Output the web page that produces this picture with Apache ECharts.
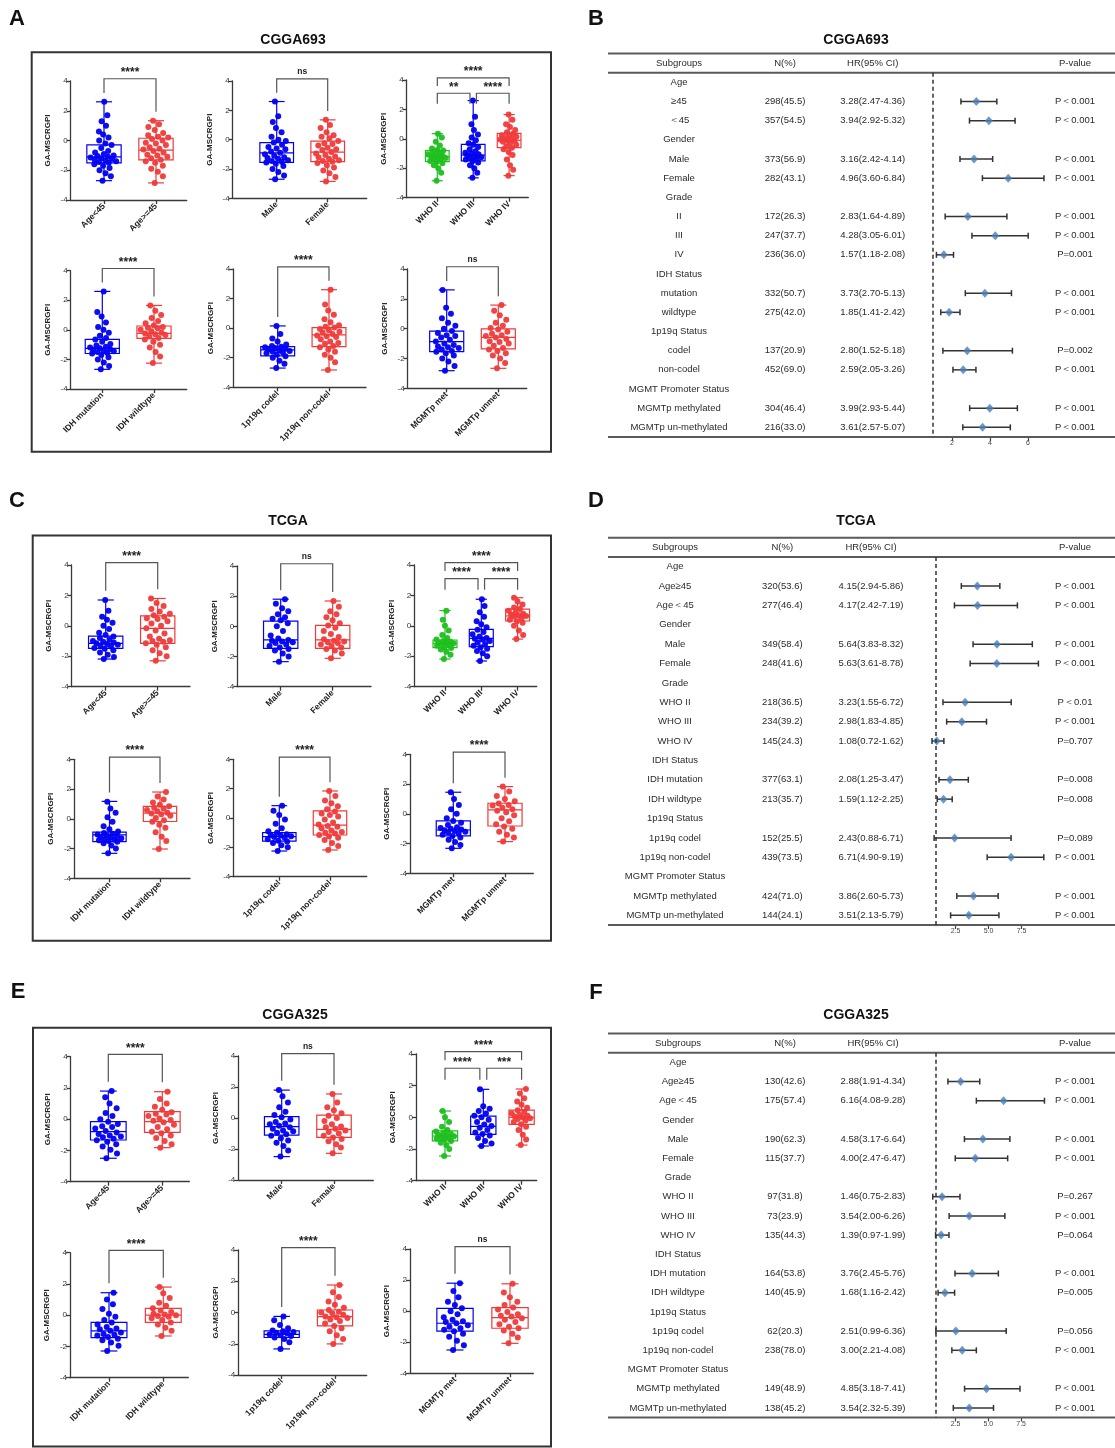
<!DOCTYPE html>
<html><head><meta charset="utf-8">
<script src="https://cdn.jsdelivr.net/npm/echarts@6/dist/echarts.min.js"></script>
<style>html,body{margin:0;padding:0;background:#fff}#c{width:1115px;height:1448px}</style>
</head><body><div id="c"></div>
<script>
// ================= DATA =================
// category labels
const catsAge = ['Age<45', 'Age>=45'];
const catsSex = ['Male', 'Female'];
const catsGrade = ['WHO II', 'WHO III', 'WHO IV'];
const catsIdh = ['IDH mutation', 'IDH wildtype'];
const catsCodel = ['1p19q codel', '1p19q non-codel'];
const catsMgmt = ['MGMTp met', 'MGMTp unmet'];

// ---- CGGA693 box stats [min,q1,median,q3,max] and read-off points ----
const c693AgeBox = [[-2.7,-1.5,-1.1,-0.3,2.6],[-2.85,-1.3,-0.65,0.15,1.33]];
const c693AgePts = [[2.6,1.7,1.3,1.0,0.6,0.4,0.2,0.0,-0.2,-0.3,-0.5,-0.7,-0.9,-1.0,-1.1,-1.2,-1.25,-1.3,-1.35,-1.4,-1.45,-1.5,-1.6,-1.7,-1.85,-2.0,-2.2,-2.4,-2.7,-0.8,-1.15,-1.05],
                    [1.33,1.1,0.9,0.7,0.5,0.35,0.2,0.1,0.0,-0.15,-0.3,-0.45,-0.6,-0.7,-0.8,-0.95,-1.1,-1.2,-1.3,-1.4,-1.5,-1.7,-1.9,-2.1,-2.4,-2.85,-0.55,-0.2,0.25,-1.0]];
const c693SexBox = [[-2.7,-1.55,-0.9,-0.2,2.6],[-2.85,-1.5,-0.85,-0.1,1.35]];
const c693SexPts = [[2.6,1.6,1.2,0.8,0.5,0.2,0.0,-0.2,-0.35,-0.5,-0.65,-0.8,-0.9,-1.0,-1.1,-1.2,-1.3,-1.4,-1.5,-1.55,-1.65,-1.8,-2.0,-2.2,-2.45,-2.7,-0.1,-0.6,-1.25,-1.45],
                    [1.35,1.0,0.8,0.5,0.3,0.1,-0.1,-0.25,-0.4,-0.55,-0.7,-0.85,-0.95,-1.05,-1.2,-1.3,-1.4,-1.5,-1.6,-1.75,-1.9,-2.1,-2.3,-2.55,-2.85,-0.3,-0.65,-1.15,-1.45,0.2]];
const c693GradeBox = [[-2.85,-1.55,-1.2,-0.8,0.35],[-2.65,-1.5,-1.1,-0.37,2.6],[-2.5,-0.6,-0.1,0.37,1.65]];
const c693GradePts = [[0.35,0.1,-0.2,-0.45,-0.65,-0.8,-0.9,-1.0,-1.1,-1.15,-1.2,-1.25,-1.3,-1.4,-1.5,-1.55,-1.65,-1.8,-2.0,-2.3,-2.85,-1.05,-1.35,-0.75],
                      [2.6,1.5,1.0,0.6,0.3,0.1,-0.1,-0.3,-0.4,-0.55,-0.7,-0.85,-1.0,-1.05,-1.1,-1.2,-1.25,-1.3,-1.4,-1.5,-1.6,-1.8,-2.0,-2.3,-2.65,-0.95,-1.35],
                      [1.65,1.3,1.0,0.8,0.6,0.45,0.35,0.25,0.15,0.05,-0.05,-0.1,-0.2,-0.3,-0.4,-0.5,-0.6,-0.7,-0.9,-1.1,-1.4,-1.8,-2.1,-2.5,0.0,-0.15,0.2]];
const c693IdhBox = [[-2.67,-1.6,-1.25,-0.65,2.6],[-2.25,-0.57,-0.24,0.26,1.65]];
const c693IdhPts = [[2.6,1.2,0.9,0.5,0.2,0.0,-0.2,-0.4,-0.55,-0.65,-0.8,-0.95,-1.05,-1.15,-1.25,-1.3,-1.35,-1.4,-1.5,-1.55,-1.6,-1.7,-1.85,-2.0,-2.2,-2.45,-2.67,-1.2,-1.45],
                    [1.65,1.3,1.0,0.8,0.6,0.45,0.3,0.2,0.1,0.0,-0.1,-0.2,-0.25,-0.35,-0.45,-0.55,-0.65,-0.8,-1.0,-1.2,-1.5,-1.8,-2.25,-0.3,0.15]];
const c693CodelBox = [[-2.7,-1.88,-1.47,-1.25,0.15],[-2.83,-1.25,-0.46,0.03,2.6]];
const c693CodelPts = [[0.15,-0.4,-0.7,-0.9,-1.1,-1.2,-1.25,-1.3,-1.4,-1.45,-1.5,-1.55,-1.6,-1.7,-1.8,-1.9,-2.0,-2.2,-2.4,-2.7,-1.35,-1.65],
                      [2.6,1.6,1.2,0.9,0.6,0.4,0.2,0.05,-0.05,-0.15,-0.3,-0.4,-0.5,-0.6,-0.75,-0.9,-1.05,-1.2,-1.3,-1.45,-1.6,-1.8,-2.0,-2.3,-2.83,-0.25,-0.55,0.1,-1.0]];
const c693MgmtBox = [[-2.82,-1.54,-0.87,-0.16,2.6],[-2.66,-1.36,-0.58,-0.02,1.58]];
const c693MgmtPts = [[2.6,1.4,1.0,0.7,0.4,0.2,0.0,-0.15,-0.3,-0.45,-0.6,-0.75,-0.87,-1.0,-1.1,-1.2,-1.3,-1.4,-1.5,-1.55,-1.65,-1.8,-2.0,-2.2,-2.5,-2.82,-0.5,-1.25],
                     [1.58,1.2,0.9,0.6,0.4,0.2,0.05,-0.05,-0.2,-0.35,-0.5,-0.6,-0.7,-0.85,-1.0,-1.15,-1.3,-1.4,-1.5,-1.65,-1.8,-2.0,-2.3,-2.66,-0.45,-0.9]];
const c693Sig2 = ['****', 'ns', '****', '****', 'ns'];          // age, sex, idh, codel, mgmt
const c693GradeSig = [[0, 2, '****'], [0, 1, '**'], [1, 2, '****']];

// ---- TCGA ----
const tcgaAgeBox = [[-2.18,-1.48,-1.15,-0.67,1.7],[-2.3,-1.15,-0.16,0.65,1.8]];
const tcgaAgePts = [[1.7,1.0,0.6,0.4,0.2,0.0,-0.2,-0.45,-0.6,-0.7,-0.8,-0.9,-1.0,-1.05,-1.1,-1.15,-1.2,-1.3,-1.35,-1.45,-1.5,-1.6,-1.75,-1.9,-2.05,-2.18,-1.25],
                    [1.8,1.5,1.3,1.1,0.95,0.8,0.7,0.6,0.45,0.3,0.15,0.0,-0.15,-0.3,-0.5,-0.7,-0.85,-0.95,-1.05,-1.15,-1.25,-1.4,-1.6,-1.8,-2.0,-2.3,-1.0,0.5]];
const tcgaSexBox = [[-2.34,-1.46,-0.9,0.35,1.8],[-2.12,-1.46,-0.9,0.07,1.68]];
const tcgaSexPts = [[1.8,1.5,1.2,1.0,0.8,0.6,0.4,0.2,0.0,-0.3,-0.6,-0.8,-0.9,-1.0,-1.05,-1.1,-1.2,-1.3,-1.4,-1.5,-1.6,-1.8,-2.0,-2.34,-0.95,0.5],
                    [1.68,1.3,1.0,0.8,0.6,0.4,0.2,0.05,-0.1,-0.3,-0.5,-0.7,-0.85,-0.95,-1.0,-1.1,-1.2,-1.3,-1.4,-1.5,-1.6,-1.8,-2.12,-1.05]];
const tcgaGradeBox = [[-2.18,-1.43,-1.15,-0.93,1.0],[-2.31,-1.37,-0.82,-0.23,1.75],[-0.87,0.32,0.65,1.1,1.85]];
const tcgaGradePts = [[1.0,0.4,0.0,-0.3,-0.6,-0.8,-0.9,-1.0,-1.05,-1.1,-1.15,-1.2,-1.25,-1.3,-1.4,-1.45,-1.55,-1.7,-1.9,-2.18,-1.12],
                      [1.75,1.3,0.9,0.6,0.3,0.1,-0.1,-0.25,-0.4,-0.55,-0.7,-0.8,-0.9,-1.0,-1.1,-1.2,-1.3,-1.4,-1.5,-1.65,-1.8,-2.0,-2.31,-0.85],
                      [1.85,1.6,1.4,1.2,1.1,1.0,0.9,0.8,0.7,0.65,0.6,0.5,0.4,0.3,0.2,0.0,-0.3,-0.6,-0.87,0.75]];
const tcgaIdhBox = [[-2.32,-1.53,-1.08,-0.9,1.17],[-2.03,-0.18,0.38,0.83,1.8]];
const tcgaIdhPts = [[1.15,0.7,0.4,0.1,-0.2,-0.5,-0.7,-0.85,-0.95,-1.0,-1.1,-1.15,-1.2,-1.25,-1.3,-1.35,-1.4,-1.5,-1.55,-1.65,-1.8,-2.0,-2.32,-1.05,-1.45],
                    [1.8,1.5,1.3,1.1,0.95,0.85,0.75,0.6,0.5,0.4,0.3,0.2,0.05,-0.1,-0.2,-0.4,-0.6,-0.9,-1.2,-1.5,-2.03,0.35,0.7]];
const tcgaCodelBox = [[-2.25,-1.57,-1.27,-1.0,0.84],[-2.18,-1.16,-0.48,0.48,1.84]];
const tcgaCodelPts = [[0.84,0.5,0.2,-0.1,-0.4,-0.7,-0.9,-1.0,-1.1,-1.2,-1.25,-1.3,-1.35,-1.45,-1.55,-1.6,-1.7,-1.85,-2.0,-2.25,-1.15],
                      [1.84,1.5,1.2,1.0,0.8,0.6,0.45,0.3,0.1,-0.1,-0.3,-0.45,-0.55,-0.7,-0.85,-0.95,-1.05,-1.15,-1.25,-1.35,-1.5,-1.7,-1.9,-2.18,-0.6,0.2,-1.0]];
const tcgaMgmtBox = [[-2.32,-1.49,-1.09,-0.48,1.45],[-1.87,-0.82,0.26,0.71,1.83]];
const tcgaMgmtPts = [[1.45,1.0,0.6,0.3,0.0,-0.3,-0.48,-0.6,-0.75,-0.9,-1.0,-1.05,-1.1,-1.15,-1.2,-1.3,-1.4,-1.5,-1.6,-1.75,-1.9,-2.1,-2.32,-1.25,-0.95],
                     [1.83,1.5,1.2,1.0,0.85,0.7,0.55,0.4,0.3,0.2,0.1,-0.1,-0.3,-0.5,-0.7,-0.85,-1.0,-1.2,-1.4,-1.6,-1.87,0.6]];
const tcgaSig2 = ['****', 'ns', '****', '****', '****'];
const tcgaGradeSig = [[0, 2, '****'], [0, 1, '****'], [1, 2, '****']];

// ---- CGGA325 ----
const c325AgeBox = [[-2.5,-1.33,-0.8,-0.16,1.8],[-1.82,-0.84,-0.16,0.48,1.76]];
const c325AgePts = [[1.8,1.4,1.0,0.7,0.4,0.2,0.0,-0.16,-0.3,-0.45,-0.6,-0.75,-0.85,-0.95,-1.05,-1.15,-1.25,-1.35,-1.45,-1.6,-1.75,-1.95,-2.2,-2.5,-0.5,-1.1],
                    [1.76,1.3,1.0,0.8,0.6,0.45,0.35,0.2,0.05,-0.1,-0.2,-0.35,-0.5,-0.65,-0.8,-0.9,-1.05,-1.2,-1.4,-1.6,-1.82,0.3,-0.05]];
const c325SexBox = [[-2.49,-1.1,-0.56,0.09,1.8],[-2.28,-1.25,-0.73,0.19,1.55]];
const c325SexPts = [[1.8,1.4,1.0,0.7,0.4,0.2,0.05,-0.1,-0.25,-0.4,-0.5,-0.6,-0.7,-0.8,-0.95,-1.05,-1.15,-1.3,-1.45,-1.6,-1.8,-2.1,-2.49,-0.35,-0.85],
                    [1.55,1.0,0.7,0.5,0.3,0.15,0.0,-0.2,-0.4,-0.55,-0.7,-0.8,-0.9,-1.0,-1.15,-1.25,-1.35,-1.5,-1.7,-1.9,-2.28,-0.6]];
const c325GradeBox = [[-2.44,-1.49,-1.18,-0.86,0.4],[-1.81,-1.07,-0.57,0.08,1.77],[-1.75,-0.44,0.0,0.46,1.79]];
const c325GradePts = [[0.4,0.0,-0.3,-0.6,-0.8,-0.9,-1.0,-1.1,-1.15,-1.2,-1.25,-1.3,-1.4,-1.5,-1.6,-1.75,-2.0,-2.44,-1.05,-1.35],
                      [1.77,0.7,0.55,0.4,0.25,0.1,0.0,-0.15,-0.3,-0.45,-0.55,-0.65,-0.8,-0.95,-1.05,-1.15,-1.3,-1.5,-1.65,-1.81],
                      [1.79,1.5,1.2,1.0,0.8,0.6,0.45,0.35,0.25,0.15,0.05,0.0,-0.1,-0.2,-0.3,-0.44,-0.6,-0.8,-1.1,-1.4,-1.75,0.1,-0.05]];
const c325IdhBox = [[-2.29,-1.44,-1.0,-0.46,1.44],[-1.33,-0.46,0.0,0.44,1.8]];
const c325IdhPts = [[1.44,1.0,0.7,0.4,0.1,-0.1,-0.3,-0.46,-0.6,-0.75,-0.9,-1.0,-1.1,-1.2,-1.3,-1.4,-1.5,-1.6,-1.75,-1.95,-2.29,-0.85,-1.25],
                    [1.8,1.4,1.1,0.8,0.6,0.44,0.3,0.2,0.1,0.0,-0.1,-0.2,-0.3,-0.46,-0.6,-0.8,-1.0,-1.33,0.05,-0.05]];
const c325CodelBox = [[-2.33,-1.6,-1.4,-1.18,-0.25],[-2.01,-0.86,-0.27,0.16,1.76]];
const c325CodelPts = [[-0.25,-0.5,-0.8,-1.0,-1.15,-1.2,-1.3,-1.35,-1.4,-1.45,-1.5,-1.6,-1.7,-1.9,-2.33,-1.25],
                      [1.76,1.3,1.0,0.7,0.5,0.3,0.16,0.05,-0.05,-0.15,-0.25,-0.35,-0.45,-0.55,-0.7,-0.86,-1.0,-1.2,-1.45,-1.7,-2.01,-0.3,0.0]];
const c325MgmtBox = [[-2.5,-1.28,-0.78,0.18,1.8],[-2.07,-1.1,-0.42,0.23,1.76]];
const c325MgmtPts = [[1.8,1.3,0.9,0.6,0.4,0.18,0.0,-0.2,-0.4,-0.55,-0.7,-0.78,-0.9,-1.0,-1.1,-1.2,-1.3,-1.45,-1.65,-1.9,-2.2,-2.5,-0.65],
                     [1.76,1.2,0.9,0.6,0.4,0.23,0.1,-0.05,-0.2,-0.35,-0.45,-0.55,-0.7,-0.85,-1.0,-1.1,-1.25,-1.45,-1.7,-2.07,-0.3]];
const c325Sig2 = ['****', 'ns', '****', '****', 'ns'];
const c325GradeSig = [[0, 2, '****'], [0, 1, '****'], [1, 2, '***']];

// ---- Forest tables ----
const c693Rows = ['Age','≥45','＜45','Gender','Male','Female','Grade','II','III','IV','IDH Status','mutation','wildtype','1p19q Status','codel','non-codel','MGMT Promoter Status','MGMTp methylated','MGMTp un-methylated'];
const c693N  = ['','298(45.5)','357(54.5)','','373(56.9)','282(43.1)','','172(26.3)','247(37.7)','236(36.0)','','332(50.7)','275(42.0)','','137(20.9)','452(69.0)','','304(46.4)','216(33.0)'];
const c693HR = [null,3.28,3.94,null,3.16,4.96,null,2.83,4.28,1.57,null,3.73,1.85,null,2.80,2.59,null,3.99,3.61];
const c693Lo = [null,2.47,2.92,null,2.42,3.60,null,1.64,3.05,1.18,null,2.70,1.41,null,1.52,2.05,null,2.93,2.57];
const c693Hi = [null,4.36,5.32,null,4.14,6.84,null,4.89,6.01,2.08,null,5.13,2.42,null,5.18,3.26,null,5.44,5.07];
const c693P  = ['','P＜0.001','P＜0.001','','P＜0.001','P＜0.001','','P＜0.001','P＜0.001','P=0.001','','P＜0.001','P＜0.001','','P=0.002','P＜0.001','','P＜0.001','P＜0.001'];

const tcgaRows = ['Age','Age≥45','Age＜45','Gender','Male','Female','Grade','WHO II','WHO III','WHO IV','IDH Status','IDH mutation','IDH wildtype','1p19q Status','1p19q codel','1p19q non-codel','MGMT Promoter Status','MGMTp methylated','MGMTp un-methylated'];
const tcgaN  = ['','320(53.6)','277(46.4)','','349(58.4)','248(41.6)','','218(36.5)','234(39.2)','145(24.3)','','377(63.1)','213(35.7)','','152(25.5)','439(73.5)','','424(71.0)','144(24.1)'];
const tcgaHR = [null,4.15,4.17,null,5.64,5.63,null,3.23,2.98,1.08,null,2.08,1.59,null,2.43,6.71,null,3.86,3.51];
const tcgaLo = [null,2.94,2.42,null,3.83,3.61,null,1.55,1.83,0.72,null,1.25,1.12,null,0.88,4.90,null,2.60,2.13];
const tcgaHi = [null,5.86,7.19,null,8.32,8.78,null,6.72,4.85,1.62,null,3.47,2.25,null,6.71,9.19,null,5.73,5.79];
const tcgaP  = ['','P＜0.001','P＜0.001','','P＜0.001','P＜0.001','','P＜0.01','P＜0.001','P=0.707','','P=0.008','P=0.008','','P=0.089','P＜0.001','','P＜0.001','P＜0.001'];

const c325Rows = ['Age','Age≥45','Age＜45','Gender','Male','Female','Grade','WHO II','WHO III','WHO IV','IDH Status','IDH mutation','IDH wildtype','1p19q Status','1p19q codel','1p19q non-codel','MGMT Promoter Status','MGMTp methylated','MGMTp un-methylated'];
const c325N  = ['','130(42.6)','175(57.4)','','190(62.3)','115(37.7)','','97(31.8)','73(23.9)','135(44.3)','','164(53.8)','140(45.9)','','62(20.3)','238(78.0)','','149(48.9)','138(45.2)'];
const c325HR = [null,2.88,6.16,null,4.58,4.00,null,1.46,3.54,1.39,null,3.76,1.68,null,2.51,3.00,null,4.85,3.54];
const c325Lo = [null,1.91,4.08,null,3.17,2.47,null,0.75,2.00,0.97,null,2.45,1.16,null,0.99,2.21,null,3.18,2.32];
const c325Hi = [null,4.34,9.28,null,6.64,6.47,null,2.83,6.26,1.99,null,5.76,2.42,null,6.36,4.08,null,7.41,5.39];
const c325P  = ['','P＜0.001','P＜0.001','','P＜0.001','P＜0.001','','P=0.267','P＜0.001','P=0.064','','P＜0.001','P=0.005','','P=0.056','P＜0.001','','P＜0.001','P＜0.001'];

const forestHeader = ['Subgroups', 'N(%)', 'HR(95% CI)', 'P-value'];
const ticksB = [2, 4, 6];
const ticksDF = [2.5, 5, 7.5];

// ================= LAYOUT / STYLE =================
const FONT = '"Liberation Sans", Arial, Helvetica, sans-serif';
const BLUE = '#0000f2', RED = '#f03a3a', GREEN = '#1dbf1d';

const LAY = {
  A: [
    {y4:81, ym4:200, left:70.7, right:186.7, c0:104, sp:52},
    {y4:81, ym4:198.3, left:232.7, right:366.7, c0:276.7, sp:51},
    {y4:80, ym4:197.7, left:406.7, right:528.3, c0:437.3, sp:35.9},
    {y4:270.7, ym4:389, left:70.7, right:186.7, c0:102.3, sp:51.7},
    {y4:269, ym4:387.3, left:233.3, right:366, c0:277.7, sp:51.3},
    {y4:269, ym4:388.3, left:407.7, right:526.7, c0:446.7, sp:51.6}
  ],
  C: [
    {y4:565, ym4:686.7, left:71.7, right:190, c0:105.7, sp:52},
    {y4:566, ym4:686.7, left:237.3, right:371, c0:280.7, sp:52},
    {y4:565, ym4:686.7, left:414.3, right:536.7, c0:445, sp:36.3},
    {y4:759.3, ym4:878.3, left:74, right:190, c0:109.5, sp:50.5},
    {y4:759.3, ym4:876.7, left:233.3, right:366.7, c0:279.3, sp:50.7},
    {y4:754.3, ym4:873.3, left:410, right:533.3, c0:453.3, sp:51.7}
  ],
  E: [
    {y4:1056.7, ym4:1181.7, left:70.7, right:189.3, c0:108.3, sp:54},
    {y4:1056, ym4:1180, left:238.3, right:373.3, c0:281.7, sp:52.3},
    {y4:1054, ym4:1180.7, left:416, right:536.7, c0:445, sp:38.3},
    {y4:1252.7, ym4:1377.7, left:70, right:188.3, c0:109, sp:54.3},
    {y4:1250, ym4:1375, left:238.3, right:366.7, c0:281.7, sp:53.3},
    {y4:1249, ym4:1373.3, left:410, right:533.3, c0:455, sp:55}
  ]
};
const FLAY = {
  B: {row0:82.3, step:19.17, x0:914, ppu:19, xmax:8, cols:[71,177,264.7,467], ticks:ticksB, fmt:v=>String(v)},
  D: {row0:566.7, step:19.37, x0:922.5, ppu:13.2, xmax:10, cols:[67,174.3,263,467], ticks:ticksDF, fmt:v=>v.toFixed(1)},
  F: {row0:1062.3, step:19.2, x0:922.9, ppu:13.1, xmax:10, cols:[70,177,265,467], ticks:ticksDF, fmt:v=>v.toFixed(1)}
};

const grid = [], xAxis = [], yAxis = [], series = [], graphic = [];

function addBoxPlot(L, cats, box, pts, sig) {
  const gi = grid.length;
  const n = cats.length;
  const cols = n === 3 ? [GREEN, BLUE, RED] : [BLUE, RED];
  const idx = cats.map((_, i) => i);
  grid.push({left: L.left, top: L.y4, width: L.right - L.left, height: L.ym4 - L.y4});
  xAxis.push({gridIndex: gi, type: 'value', min: -(L.c0 - L.left) / L.sp, max: (L.right - L.c0) / L.sp,
    axisLine: {show: true, onZero: false, lineStyle: {color: '#3a3a3a', width: 1.3}},
    axisTick: {show: true, customValues: idx, length: 4, lineStyle: {color: '#3a3a3a', width: 1.3}},
    axisLabel: {show: true, customValues: idx, formatter: v => cats[Math.round(v)], rotate: 45, fontSize: 8.5,
      fontWeight: 'bold', color: '#222', fontFamily: FONT, margin: 5},
    splitLine: {show: false}});
  yAxis.push({gridIndex: gi, type: 'value', min: -4, max: 4, interval: 2,
    axisLine: {show: true, onZero: false, lineStyle: {color: '#3a3a3a', width: 1.3}},
    axisTick: {show: true, length: 4, lineStyle: {color: '#3a3a3a', width: 1.3}},
    axisLabel: {fontSize: 8, color: '#333', fontFamily: FONT, margin: 3},
    splitLine: {show: false},
    name: 'GA-MSCRGPI', nameLocation: 'middle', nameGap: 19,
    nameTextStyle: {fontSize: 8, fontWeight: 'bold', color: '#222', fontFamily: FONT}});
  // points (x spread = layout only, derived from local density of the read values)
  pts.forEach((arr, i) => {
    const v = arr.slice().sort((a, b) => a - b);
    const dens = v.map(y => v.filter(z => Math.abs(z - y) <= 0.35).length);
    const dmax = Math.max(...dens);
    const data = v.map((y, k) => {
      const u = ((k * 0.618034 + 0.37) % 1) * 2 - 1;
      const w = 0.27 * Math.sqrt(dens[k] / dmax);
      return [i + u * w, y];
    });
    series.push({type: 'scatter', xAxisIndex: gi, yAxisIndex: gi, data, symbolSize: 6, silent: true, z: 2,
      itemStyle: {color: cols[i], opacity: 0.95}});
  });
  // boxes
  series.push({type: 'custom', xAxisIndex: gi, yAxisIndex: gi, z: 3, silent: true, clip: false,
    data: box.map((b, i) => [i, ...b]),
    renderItem: (p, api) => {
      const i = api.value(0), col = cols[i];
      const X = api.coord([i, 0])[0];
      const y = k => api.coord([i, api.value(k)])[1];
      const hw = api.size([0.33, 0])[0], cw = api.size([0.155, 0])[0];
      const st = {stroke: col, lineWidth: 1.2, fill: 'none'};
      const yMin = y(1), yQ1 = y(2), yMd = y(3), yQ3 = y(4), yMax = y(5);
      return {type: 'group', children: [
        {type: 'rect', shape: {x: X - hw, y: yQ3, width: 2 * hw, height: yQ1 - yQ3}, style: st},
        {type: 'line', shape: {x1: X - hw, y1: yMd, x2: X + hw, y2: yMd}, style: st},
        {type: 'line', shape: {x1: X, y1: yQ3, x2: X, y2: yMax}, style: st},
        {type: 'line', shape: {x1: X, y1: yQ1, x2: X, y2: yMin}, style: st},
        {type: 'line', shape: {x1: X - cw, y1: yMax, x2: X + cw, y2: yMax}, style: st},
        {type: 'line', shape: {x1: X - cw, y1: yMin, x2: X + cw, y2: yMin}, style: st}
      ]};
    }});
  // significance brackets
  const sdata = sig.map(([i, j], k) => {
    let top, li, lj, xi = i, xj = j;
    if (n === 2) { top = 4.15; li = Math.min(box[i][4] + 0.6, top - 0.3); lj = Math.min(box[j][4] + 0.6, top - 0.3); }
    else if (j - i === 2) { top = 4.15; li = lj = top - 0.55; }
    else { top = 3.1; li = lj = top - 0.72; if (i === 1) xi = i + 0.09; if (j === 1) xj = j - 0.09; }
    return [xi, xj, top, li, lj, k];
  });
  series.push({type: 'custom', xAxisIndex: gi, yAxisIndex: gi, z: 3, silent: true, clip: false, data: sdata,
    renderItem: (p, api) => {
      const a = api.coord([api.value(0), api.value(3)]), b = api.coord([api.value(0), api.value(2)]);
      const c = api.coord([api.value(1), api.value(2)]), d = api.coord([api.value(1), api.value(4)]);
      const lab = sig[api.value(5)][2];
      const ns = lab === 'ns';
      return {type: 'group', children: [
        {type: 'polyline', shape: {points: [a, b, c, d]}, style: {stroke: '#555', lineWidth: 1.2, fill: 'none'}},
        {type: 'text', x: (b[0] + c[0]) / 2, y: b[1] - (ns ? 3 : 0),
          style: {text: lab, align: 'center', verticalAlign: 'bottom', textAlign: 'center', textVerticalAlign: 'bottom',
            fontSize: ns ? 8.5 : 12, fontWeight: 'bold', fontFamily: FONT, fill: '#222'}}
      ]};
    }});
}

function addBoxPanel(Ls, age, sex, grade, idh, codel, mgmt, sig2, gradeSig) {
  addBoxPlot(Ls[0], catsAge, age[0], age[1], [[0, 1, sig2[0]]]);
  addBoxPlot(Ls[1], catsSex, sex[0], sex[1], [[0, 1, sig2[1]]]);
  addBoxPlot(Ls[2], catsGrade, grade[0], grade[1], gradeSig);
  addBoxPlot(Ls[3], catsIdh, idh[0], idh[1], [[0, 1, sig2[2]]]);
  addBoxPlot(Ls[4], catsCodel, codel[0], codel[1], [[0, 1, sig2[3]]]);
  addBoxPlot(Ls[5], catsMgmt, mgmt[0], mgmt[1], [[0, 1, sig2[4]]]);
}

function addForest(L, rows, nArr, hr, lo, hi, pArr) {
  const top = L.row0 - L.step / 2, height = 19 * L.step;
  const gT = grid.length;
  grid.push({left: 608, top, width: 507, height});
  xAxis.push({gridIndex: gT, type: 'value', min: 0, max: 507, show: false});
  yAxis.push({gridIndex: gT, type: 'value', min: -0.5, max: 18.5, inverse: true, show: false});
  series.push({type: 'custom', xAxisIndex: gT, yAxisIndex: gT, clip: false, silent: true, z: 2,
    data: [-1, ...rows.map((_, i) => i)].map(r => [0, r]),
    renderItem: (p, api) => {
      const r = api.value(1);
      const y = api.coord([0, r])[1];
      const xc = k => api.coord([L.cols[k], r])[0];
      const txt = (k, s) => ({type: 'text', x: xc(k), y,
        style: {text: s, align: 'center', verticalAlign: 'middle', textAlign: 'center', textVerticalAlign: 'middle',
          fontSize: 9.5, fontFamily: FONT, fill: '#2a2a2a'}});
      if (r === -1) {
        const xl = api.coord([0, 0])[0], xr = api.coord([507, 0])[0];
        const ly = v => api.coord([0, v])[1];
        const rule = v => ({type: 'line', shape: {x1: xl, y1: ly(v), x2: xr, y2: ly(v)}, style: {stroke: '#5a5a5a', lineWidth: 2}});
        return {type: 'group', children: [
          txt(0, forestHeader[0]), txt(1, forestHeader[1]), txt(2, forestHeader[2]), txt(3, forestHeader[3]),
          rule(-1.5), rule(-0.5), rule(18.5)
        ]};
      }
      const h = hr[r];
      const hrText = h == null ? '' : `${h.toFixed(2)}(${lo[r].toFixed(2)}-${hi[r].toFixed(2)})`;
      return {type: 'group', children: [txt(0, rows[r]), txt(1, nArr[r]), txt(2, hrText), txt(3, pArr[r])]};
    }});

  const gF = grid.length;
  grid.push({left: L.x0, top, width: L.ppu * L.xmax, height});
  xAxis.push({gridIndex: gF, type: 'value', min: 0, max: L.xmax, position: 'bottom',
    axisLine: {show: false, onZero: false},
    axisTick: {show: true, customValues: L.ticks, length: 4, lineStyle: {color: '#444', width: 1.2}},
    axisLabel: {show: true, customValues: L.ticks, formatter: v => L.fmt(v), fontSize: 7, color: '#444', margin: 3, fontFamily: FONT},
    splitLine: {show: false}});
  yAxis.push({gridIndex: gF, type: 'value', min: -0.5, max: 18.5, inverse: true, show: false});
  const ci = [], est = [];
  hr.forEach((h, r) => { if (h != null) { ci.push([lo[r], hi[r], r]); est.push([h, r]); } });
  series.push({type: 'custom', xAxisIndex: gF, yAxisIndex: gF, clip: false, silent: true, z: 3, data: ci,
    encode: {x: [0, 1], y: 2},
    renderItem: (p, api) => {
      const a = api.coord([api.value(0), api.value(2)]), b = api.coord([api.value(1), api.value(2)]);
      const st = {stroke: '#333', lineWidth: 1.5};
      return {type: 'group', children: [
        {type: 'line', shape: {x1: a[0], y1: a[1], x2: b[0], y2: b[1]}, style: st},
        {type: 'line', shape: {x1: a[0], y1: a[1] - 3, x2: a[0], y2: a[1] + 3}, style: st},
        {type: 'line', shape: {x1: b[0], y1: b[1] - 3, x2: b[0], y2: b[1] + 3}, style: st}
      ]};
    }});
  series.push({type: 'scatter', xAxisIndex: gF, yAxisIndex: gF, data: est, symbol: 'diamond', symbolSize: [8, 9],
    silent: true, z: 4, itemStyle: {color: '#4a7db8'},
    markLine: {silent: true, symbol: 'none', label: {show: false}, animation: false,
      lineStyle: {type: [4, 3], color: '#333', width: 1.5}, data: [{xAxis: 1}]}});
}

addBoxPanel(LAY.A, [c693AgeBox, c693AgePts], [c693SexBox, c693SexPts], [c693GradeBox, c693GradePts],
  [c693IdhBox, c693IdhPts], [c693CodelBox, c693CodelPts], [c693MgmtBox, c693MgmtPts], c693Sig2, c693GradeSig);
addBoxPanel(LAY.C, [tcgaAgeBox, tcgaAgePts], [tcgaSexBox, tcgaSexPts], [tcgaGradeBox, tcgaGradePts],
  [tcgaIdhBox, tcgaIdhPts], [tcgaCodelBox, tcgaCodelPts], [tcgaMgmtBox, tcgaMgmtPts], tcgaSig2, tcgaGradeSig);
addBoxPanel(LAY.E, [c325AgeBox, c325AgePts], [c325SexBox, c325SexPts], [c325GradeBox, c325GradePts],
  [c325IdhBox, c325IdhPts], [c325CodelBox, c325CodelPts], [c325MgmtBox, c325MgmtPts], c325Sig2, c325GradeSig);
addForest(FLAY.B, c693Rows, c693N, c693HR, c693Lo, c693Hi, c693P);
addForest(FLAY.D, tcgaRows, tcgaN, tcgaHR, tcgaLo, tcgaHi, tcgaP);
addForest(FLAY.F, c325Rows, c325N, c325HR, c325Lo, c325Hi, c325P);

// panel letters, titles, frames
const txtEl = (s, x, y, size) => ({type: 'text', x, y, silent: true,
  style: {text: s, textAlign: 'center', textVerticalAlign: 'middle', align: 'center', verticalAlign: 'middle',
    fontSize: size, fontWeight: 'bold', fontFamily: FONT, fill: '#111'}});
[['A', 17, 19], ['B', 596, 19], ['C', 17, 501], ['D', 596, 501], ['E', 18, 992], ['F', 596, 993]]
  .forEach(([s, x, y]) => graphic.push(txtEl(s, x, y, 22)));
[['CGGA693', 293, 40], ['CGGA693', 856, 40], ['TCGA', 288, 521.5], ['TCGA', 856, 521.5], ['CGGA325', 295, 1015], ['CGGA325', 856, 1015.5]]
  .forEach(([s, x, y]) => graphic.push(txtEl(s, x, y, 14)));
[[31.7, 52.3, 551, 451.7], [32.7, 535.5, 551, 940.7], [33, 1027.7, 551, 1446.5]]
  .forEach(([x1, y1, x2, y2]) => graphic.push({type: 'rect', silent: true,
    shape: {x: x1, y: y1, width: x2 - x1, height: y2 - y1}, style: {fill: 'none', stroke: '#333', lineWidth: 2}}));

const chart = echarts.init(document.getElementById('c'), null, {renderer: 'canvas', width: 1115, height: 1448});
chart.setOption({animation: false, backgroundColor: '#fff', grid, xAxis, yAxis, series, graphic});
</script></body></html>
